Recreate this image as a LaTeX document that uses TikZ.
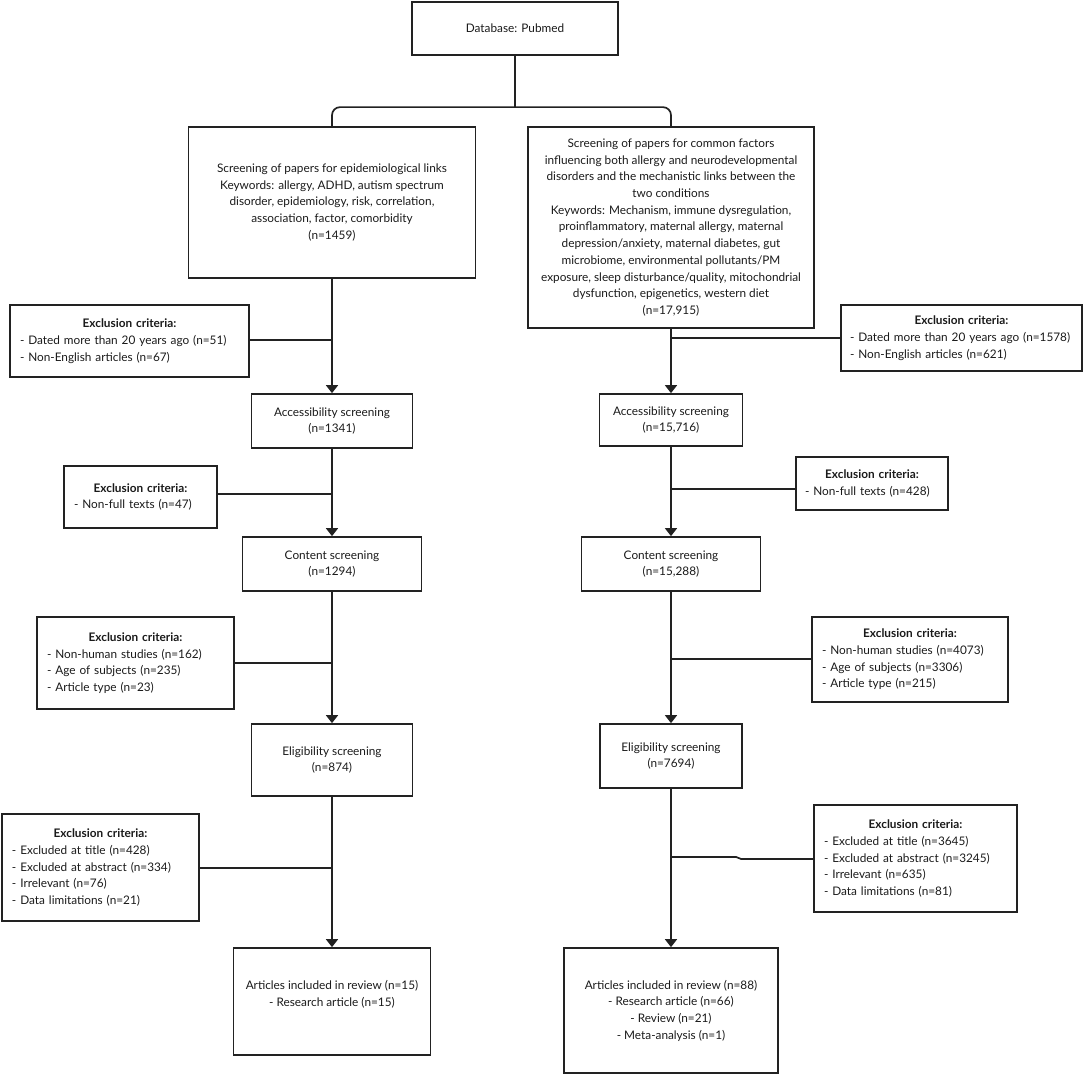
\documentclass[tikz,border=0pt]{standalone}
\usepackage{fontspec}
\setmainfont{Lato}
\usetikzlibrary{arrows.meta}
\definecolor{linec}{HTML}{222222}
\definecolor{txtc}{HTML}{1A1A1A}
\setlength{\parindent}{0pt}
\newcommand{\ExclHead}{{\centering\textbf{Exclusion criteria:}\par}}
\begin{document}
\begin{tikzpicture}[x=1pt,y=-1pt,
  box/.style={draw=linec, line width=1.7pt, align=center, inner sep=0pt, text=txtc,
    font=\fontsize{11.8}{16.7}\selectfont},
  excl/.style={box, align=left, inner xsep=10pt, inner ysep=0pt},
  arr/.style={draw=linec, line width=1.7pt, -{Triangle[width=12pt,length=8pt]}},
  conn/.style={draw=linec, line width=1.7pt}]
\useasboundingbox (0,0) rectangle (1084,1075);

% top
\node[box, minimum width=206pt, minimum height=53pt] (top) at (515,28.5) {Database: Pubmed};

% screening boxes
\node[box, minimum width=287pt, minimum height=151pt] (scrL) at (332,202.5)
 {Screening of papers for epidemiological links\\
  Keywords: allergy, ADHD, autism spectrum\\
  disorder, epidemiology, risk, correlation,\\
  association, factor, comorbidity\\
  (n=1459)};
\node[box, minimum width=286pt, minimum height=201pt] (scrR) at (671,227.5)
 {Screening of papers for common factors\\
  influencing both allergy and neurodevelopmental\\
  disorders and the mechanistic links between the\\
  two conditions\\
  Keywords: Mechanism, immune dysregulation,\\
  proinflammatory, maternal allergy, maternal\\
  depression/anxiety, maternal diabetes, gut\\
  microbiome, environmental pollutants/PM\\
  exposure, sleep disturbance/quality, mitochondrial\\
  dysfunction, epigenetics, western diet\\
  (n=17,915)};

% left column
\node[box, minimum width=161pt, minimum height=54pt] (accL) at (332,421) {Accessibility screening\\(n=1341)};
\node[box, minimum width=179pt, minimum height=54pt] (conL) at (332,564) {Content screening\\(n=1294)};
\node[box, minimum width=161pt, minimum height=72pt] (eliL) at (332,760) {Eligibility screening\\(n=874)};
\node[box, minimum width=197pt, minimum height=107pt] (artL) at (332,1001.5)
 {Articles included in review (n=15)\\- Research article (n=15)\\\mbox{}};

% right column
\node[box, minimum width=143pt, minimum height=52pt] (accR) at (671,420) {Accessibility screening\\(n=15,716)};
\node[box, minimum width=179pt, minimum height=54pt] (conR) at (671,564) {Content screening\\(n=15,288)};
\node[box, minimum width=142pt, minimum height=64pt] (eliR) at (671,756) {Eligibility screening\\(n=7694)};
\node[box, minimum width=214pt, minimum height=125pt] (artR) at (671,1010.5)
 {Articles included in review (n=88)\\- Research article (n=66)\\- Review (n=21)\\- Meta-analysis (n=1)};

% left exclusion boxes
\node[excl, text width=219pt, minimum height=72pt] (exL1) at (129.5,341)
 {\ExclHead\mbox{- Dated more than 20 years ago (n=51)}\\\mbox{- Non-English articles (n=67)}};
\node[excl, text width=133pt, minimum height=62pt] (exL2) at (140.5,497)
 {\ExclHead\mbox{- Non-full texts (n=47)}};
\node[excl, text width=177pt, minimum height=92pt] (exL3) at (135.5,663)
 {\ExclHead\mbox{- Non-human studies (n=162)}\\\mbox{- Age of subjects (n=235)}\\\mbox{- Article type (n=23)}};
\node[excl, text width=177pt, minimum height=107pt] (exL4) at (100.5,867.5)
 {\ExclHead\mbox{- Excluded at title (n=428)}\\\mbox{- Excluded at abstract (n=334)}\\\mbox{- Irrelevant (n=76)}\\\mbox{- Data limitations (n=21)}};

% right exclusion boxes
\node[excl, text width=223pt, inner xsep=9pt, minimum height=66pt] (exR1) at (961.5,338)
 {\ExclHead\mbox{- Dated more than 20 years ago (n=1578)}\\\mbox{- Non-English articles (n=621)}};
\node[excl, text width=134pt, inner xsep=9pt, minimum height=53pt] (exR2) at (872,483.5)
 {\ExclHead\mbox{- Non-full texts (n=428)}};
\node[excl, text width=176pt, minimum height=85pt] (exR3) at (910,659.5)
 {\ExclHead\mbox{- Non-human studies (n=4073)}\\\mbox{- Age of subjects (n=3306)}\\\mbox{- Article type (n=215)}};
\node[excl, text width=183pt, minimum height=107pt] (exR4) at (915.5,858.5)
 {\ExclHead\mbox{- Excluded at title (n=3645)}\\\mbox{- Excluded at abstract (n=3245)}\\\mbox{- Irrelevant (n=635)}\\\mbox{- Data limitations (n=81)}};

% split from top
\coordinate (jtop) at (515,108);
\draw[conn] (top.south) -- (jtop);
\draw[conn, rounded corners=8pt] (scrL.north) -- ++(0,-19) -| (scrR.north);

% main flow arrows
\draw[arr] (scrL) -- (accL);
\draw[arr] (accL) -- (conL);
\draw[arr] (conL) -- (eliL);
\draw[arr] (eliL) -- (artL);
\draw[arr] (scrR) -- (accR);
\draw[arr] (accR) -- (conR);
\draw[arr] (conR) -- (eliR);
\draw[arr] (eliR) -- (artR);

% exclusion joins
\draw[conn] ([yshift=1pt]exL1.east) -- ([yshift=1pt]exL1.east -| scrL.south);
\draw[conn] ([yshift=3pt]exL2.east) -- ([yshift=3pt]exL2.east -| accL.south);
\draw[conn] (exL3.east) -- (exL3.east -| conL.south);
\draw[conn] ([yshift=-0.5pt]exL4.east) -- ([yshift=-0.5pt]exL4.east -| eliL.south);
\draw[conn] (exR1.west) -- (exR1.west -| scrR.south);
\draw[conn] ([yshift=-5.5pt]exR2.west) -- ([yshift=-5.5pt]exR2.west -| accR.south);
\draw[conn] ([yshift=0.5pt]exR3.west) -- ([yshift=0.5pt]exR3.west -| conR.south);
\draw[conn] ([yshift=-0.5pt]exR4.west) -- ([xshift=-72pt,yshift=-0.5pt]exR4.west)
  -- ([xshift=-77pt,yshift=1.5pt]exR4.west) -- ([yshift=1.5pt]exR4.west -| eliR.south);
\end{tikzpicture}
\end{document}
